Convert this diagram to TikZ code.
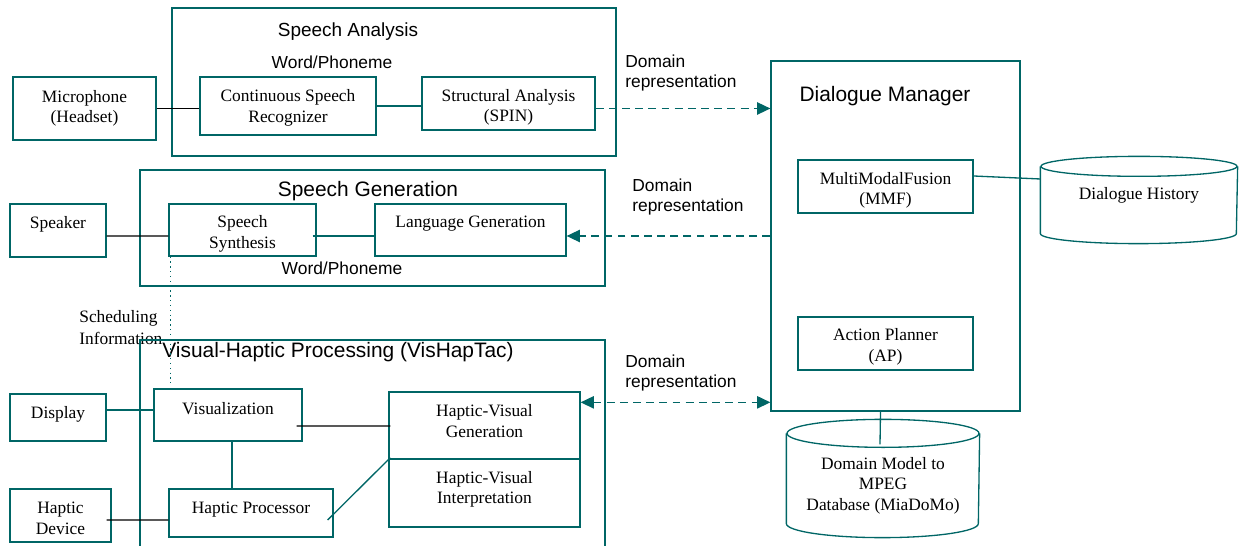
\documentclass[tikz,border=0pt]{standalone}
\usepackage{fontspec}
\setmainfont{Liberation Serif}
\setsansfont{Liberation Sans}
\usepackage{tikz}
\usetikzlibrary{positioning, shapes.geometric}
\usetikzlibrary{calc, arrows.meta}
\definecolor{boxteal}{RGB}{0,102,102}
\newcommand{\liftby}[2]{\raisebox{#1}[0pt][0pt]{\begin{tabular}{@{}c@{}}#2\end{tabular}}}
\tikzstyle{block} = [rectangle, draw=boxteal, line width=0.75pt, inner sep=0pt, font=\fontsize{9.9}{11.7}\selectfont]
\tikzstyle{groupbox} = [rectangle, draw=boxteal, line width=0.75pt, inner sep=0pt]
\tikzstyle{title} = [inner sep=0pt, font=\sffamily\fontsize{11.9}{14}\selectfont]
\tikzstyle{note} = [anchor=west, align=left, inner sep=0pt, font=\sffamily\fontsize{9.9}{11.3}\selectfont]
\tikzstyle{tealline} = [draw=boxteal, line width=0.75pt]
\tikzstyle{blackline} = [draw=black, line width=0.75pt]
\tikzstyle{arrow} = [tealline, dash pattern=on 4.5pt off 3pt, ->, >={Triangle[length=7.5pt,width=7pt]}]
\begin{document}
\begin{tikzpicture}[x=0.02cm, y=-0.02cm]
		\useasboundingbox (0,0) rectangle (1247,546);
		% speech analysis
		\node (sa) [groupbox, minimum width=8.88cm, minimum height=2.96cm] at (394,82) {};
		\node (satitle) [title, font=\sffamily\fontsize{10.8}{13}\selectfont] at (348,32) {Speech Analysis};
		\node (saword) [note, anchor=center] at (332,62) {Word/Phoneme};
		\node (mic) [block, minimum width=2.86cm, minimum height=1.26cm] at (84.5,108.5) {\liftby{-2.5pt}{Microphone\\(Headset)}};
		\node (csr) [block, minimum width=3.52cm, minimum height=1.16cm] at (288,106) {\liftby{-3.6pt}{Continuous Speech\\Recognizer}};
		\node (spin) [block, minimum width=3.46cm, minimum height=1.06cm] at (508.5,103.5) {\liftby{-4.8pt}{Structural Analysis\\(SPIN)}};
		% speech generation
		\node (sg) [groupbox, minimum width=9.3cm, minimum height=2.32cm] at (372.5,228) {};
		\node (sgtitle) [title] at (368,191) {Speech Generation};
		\node (sgword) [note, anchor=center] at (342,268) {Word/Phoneme};
		\node (speaker) [block, minimum width=1.92cm, minimum height=1.06cm] at (58,230.5) {\liftby{1pt}{Speaker}};
		\node (synth) [block, minimum width=2.94cm, minimum height=1.04cm] at (242.5,230) {\liftby{-4.8pt}{Speech\\Synthesis}};
		\node (langgen) [block, minimum width=3.82cm, minimum height=1.04cm] at (470.5,230) {\liftby{1.1pt}{Language Generation}};
		\node (sched) [note, font=\fontsize{9.9}{12.5}\selectfont] at (79,328) {Scheduling\\Information};
		% visual-haptic processing
		\node (vh) [groupbox, minimum width=9.3cm, minimum height=4.4cm] at (372.5,450) {};
		\node (vhtitle) [title] at (338,352) {Visual-Haptic Processing (VisHapTac)};
		\node (display) [block, minimum width=1.92cm, minimum height=0.94cm] at (58,417.5) {\liftby{-1pt}{Display}};
		\node (vis) [block, minimum width=2.96cm, minimum height=1.04cm] at (228,415) {\liftby{0.1pt}{Visualization}};
		\node (hvgen) [block, minimum width=3.82cm, minimum height=1.34cm] at (484.5,425.5) {\liftby{-1.1pt}{Haptic-Visual\\Generation}};
		\node (hvint) [block, below of=hvgen, node distance=1.35cm, minimum width=3.82cm, minimum height=1.36cm] {\liftby{-0.5pt}{Haptic-Visual\\Interpretation}};
		\node (hdev) [block, minimum width=2.02cm, minimum height=1.06cm] at (60.5,515.5) {\liftby{-5pt}{Haptic\\Device}};
		\node (hproc) [block, minimum width=3.28cm, minimum height=0.96cm] at (251,513) {\liftby{-0.2pt}{Haptic Processor}};
		% dialogue manager
		\node (dm) [groupbox, minimum width=4.98cm, minimum height=7cm] at (895.5,236) {};
		\node (dmtitle) [title] at (885,96) {Dialogue Manager};
		\node (mmf) [block, minimum width=3.5cm, minimum height=1.06cm] at (885.5,186.5) {\liftby{-4.8pt}{MultiModalFusion\\(MMF)}};
		\node (ap) [block, below of=mmf, node distance=3.14cm, minimum width=3.5cm, minimum height=1.06cm] {\liftby{-4.5pt}{Action Planner\\(AP)}};
		\node (dhist) [block, draw=none, minimum width=3.92cm, minimum height=1.72cm] at (1139,200) {\liftby{0.1pt}{Dialogue History}};
		\node (domdb) [block, draw=none, minimum width=3.84cm, minimum height=2.34cm] at (883,478.5) {\liftby{-6.5pt}{Domain Model to\\MPEG\\Database (MiaDoMo)}};
		\node (dr1) [note] at (625,73) {Domain\\representation};
		\node (dr2) [note] at (632,197) {Domain\\representation};
		\node (dr3) [note] at (625,373) {Domain\\representation};
		% databases
		\draw [tealline] ($(dhist.north west)+(0,10)$) -- ($(dhist.south west)+(0,-10)$) arc[start angle=180, end angle=360, x radius=1.96cm, y radius=0.2cm] -- ($(dhist.north east)+(0,10)$);
		\draw [tealline] ($(dhist.north)+(0,10)$) ellipse[x radius=1.96cm, y radius=0.2cm];
		\draw [tealline] ($(domdb.north west)+(0,14)$) -- ($(domdb.south west)+(0,-14)$) arc[start angle=180, end angle=360, x radius=1.92cm, y radius=0.28cm] -- ($(domdb.north east)+(0,14)$);
		\draw [tealline] ($(domdb.north)+(0,14)$) ellipse[x radius=1.92cm, y radius=0.28cm];
		% connectors
		\draw [blackline](mic.east) -- (mic.east -| csr.west);
		\draw [tealline](csr.east) -- (csr.east -| spin.west);
		\draw [arrow]($(spin.east)+(0,5)$) -- ($(spin.east -| dm.west)+(0,5)$);
		\draw [blackline]($(speaker.east)+(0,5.5)$) -- ($(synth.west)+(0,6)$);
		\draw [tealline]($(synth.east)+(-4,6)$) -- ($(langgen.west)+(0,6)$);
		\draw [arrow]($(dm.west |- langgen.east)+(0,6)$) -- ($(langgen.east)+(0,6)$);
		\draw [tealline, dotted]($(synth.south west)+(2,0)$) -- ($(vis.north west)+(17,-5)$);
		\draw [tealline]($(display.east)+(0,-7.5)$) -- ($(vis.west)+(0,-5)$);
		\draw [blackline]($(vis.east)+(-6,11)$) -- ($(hvgen.west)+(2,0.5)$);
		\draw [tealline]($(vis.south)+(4,0)$) -- ($(hproc.north)+(-19,0)$);
		\draw [blackline]($(hdev.east)+(-5,4.5)$) -- ($(hproc.west)+(0,7)$);
		\draw [tealline]($(hproc.east)+(-6,7)$) -- ($(hvgen.south west)+(2,-2)$);
		\draw [arrow, <->]($(hvgen.north east)+(0,11)$) -- ($(dm.west |- hvgen.north)+(0,11)$);
		\draw [tealline]($(mmf.east)+(0,-10.5)$) -- ($(dhist.west)+(0,-21)$);
		\draw [tealline]($(dm.south)+(-15,0)$) -- ($(domdb.north)+(-3,25)$);
	\end{tikzpicture}
\end{document}
